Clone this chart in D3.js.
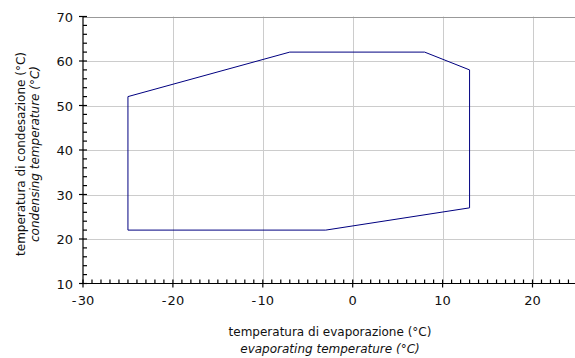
<!DOCTYPE html>
<html>
<head>
<meta charset="utf-8">
<script src="https://cdn.jsdelivr.net/npm/d3@7"></script>
<style>
  body { margin: 0; background: #fff; }
  svg { display: block; font-family: "DejaVu Sans", Verdana, sans-serif; }
</style>
</head>
<body>
<div id="chart"></div>
<script>
// envelope corners (evaporating, condensing) in °C
const evapTemps = [-25, -25, -7, 8, 13, 13, -3, -25];
const condTemps = [22, 52, 62, 62, 58, 27, 22, 22];
const xTicks = [-30, -20, -10, 0, 10, 20];
const yTicks = [10, 20, 30, 40, 50, 60, 70];
const xTitle = ['temperatura di evaporazione (°C)', 'evaporating temperature (°C)'];
const yTitle = ['temperatura di condesazione (°C)', 'condensing temperature (°C)'];

const width = 575, height = 358;
const margin = {left: 83, right: 0, top: 16.5, bottom: 74.5};

const svg = d3.select('#chart').append('svg').attr('width', width).attr('height', height);

const x = d3.scaleLinear().domain([-30, 25]).range([margin.left, margin.left + 55 * 8.99]);
const y = d3.scaleLinear().domain([10, 70]).range([height - margin.bottom, margin.top]);

const x0 = x(-30), y0 = y(10);

// grid
const grid = svg.append('g').attr('stroke', '#cccccc').attr('stroke-width', 1);
grid.selectAll('.vx').data(xTicks.filter(d => d > -30)).enter().append('line')
  .attr('x1', d => Math.round(x(d)) + 0.5).attr('x2', d => Math.round(x(d)) + 0.5)
  .attr('y1', y(70)).attr('y2', y0);
grid.selectAll('.hy').data(yTicks.filter(d => d > 10 && d < 70)).enter().append('line')
  .attr('x1', x0).attr('x2', width)
  .attr('y1', d => Math.round(y(d)) + 0.5).attr('y2', d => Math.round(y(d)) + 0.5);
svg.append('line').attr('x1', x0).attr('x2', width)
  .attr('y1', Math.round(y(70)) + 0.5).attr('y2', Math.round(y(70)) + 0.5)
  .attr('stroke', '#999999');

// envelope
const pts = evapTemps.map((e, i) => [x(e), y(condTemps[i])]);
svg.append('path').attr('d', d3.line()(pts))
  .attr('fill', 'none').attr('stroke', '#000080').attr('stroke-width', 1);

// axes
const ax = svg.append('g').attr('stroke', '#000').attr('stroke-width', 1.2);
ax.append('line').attr('x1', x0).attr('x2', width).attr('y1', y0).attr('y2', y0);
ax.append('line').attr('x1', x0).attr('x2', x0).attr('y1', y(70)).attr('y2', y0);

// minor ticks
ax.selectAll('.mx').data(d3.range(-29, 26).filter(d => d % 10 !== 0)).enter().append('line')
  .attr('x1', d => x(d)).attr('x2', d => x(d)).attr('y1', y0).attr('y2', y0 - 4);
ax.selectAll('.my').data(d3.range(12, 70, 2).filter(d => d % 10 !== 0)).enter().append('line')
  .attr('x1', x0).attr('x2', x0 + 4).attr('y1', d => y(d)).attr('y2', d => y(d));
// major ticks
ax.selectAll('.Mx').data(xTicks).enter().append('line')
  .attr('x1', d => x(d)).attr('x2', d => x(d)).attr('y1', y0 - 4).attr('y2', y0 + 4);
ax.selectAll('.My').data(yTicks).enter().append('line')
  .attr('x1', x0 - 4).attr('x2', x0 + 4).attr('y1', d => y(d)).attr('y2', d => y(d));

// tick labels
svg.selectAll('.xl').data(xTicks).enter().append('text')
  .attr('x', d => x(d)).attr('y', y0 + 21).attr('text-anchor', 'middle')
  .attr('font-size', 13).attr('fill', '#111')
  .text(d => d < 0 ? '-\u200A' + Math.abs(d) : d);
svg.selectAll('.yl').data(yTicks).enter().append('text')
  .attr('x', x0 - 10).attr('y', d => y(d) + 5).attr('text-anchor', 'end')
  .attr('font-size', 13).attr('fill', '#111')
  .text(d => d);

// titles
svg.append('text').attr('x', 330).attr('y', 336).attr('text-anchor', 'middle')
  .attr('font-size', 12).attr('fill', '#111').text(xTitle[0]);
svg.append('text').attr('x', 330).attr('y', 353).attr('text-anchor', 'middle')
  .attr('font-size', 12).attr('font-style', 'italic').attr('fill', '#111').text(xTitle[1]);

const cy = (y(70) + y0) / 2 + 4;
svg.append('text').attr('transform', `translate(25,${cy}) rotate(-90)`).attr('text-anchor', 'middle')
  .attr('font-size', 12).attr('fill', '#111').text(yTitle[0]);
svg.append('text').attr('transform', `translate(39,${cy}) rotate(-90)`).attr('text-anchor', 'middle')
  .attr('font-size', 12).attr('font-style', 'italic').attr('fill', '#111').text(yTitle[1]);
</script>
</body>
</html>
